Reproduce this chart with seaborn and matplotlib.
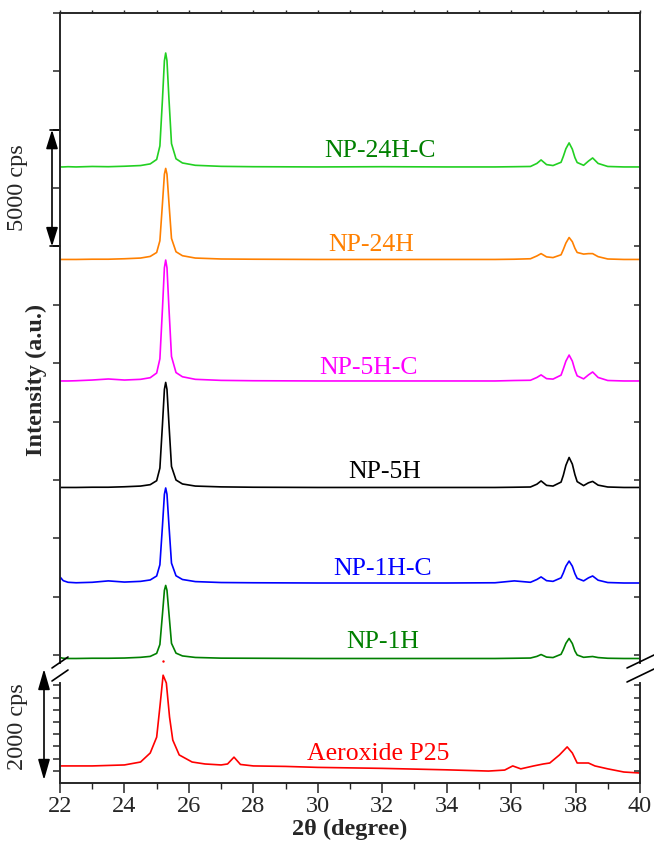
import numpy as np
import pandas as pd
import matplotlib
matplotlib.use("Agg")
import matplotlib.pyplot as plt
import matplotlib.transforms as mtransforms
from matplotlib.lines import Line2D
from matplotlib.patches import FancyArrowPatch
from matplotlib.ticker import MultipleLocator
import seaborn as sns

# ---------------- data ----------------
two_theta = [22.0, 22.1, 22.25, 22.5, 23.0, 23.5, 24.0, 24.5, 24.8, 25.0, 25.1, 25.18,
             25.24, 25.28, 25.32, 25.38, 25.46, 25.6, 25.8, 26.2, 27.0, 28.0, 30.0, 32.0,
             34.0, 35.5, 36.1, 36.6, 36.8, 36.93, 37.1, 37.3, 37.55, 37.62, 37.7, 37.8,
             37.9, 37.98, 38.05, 38.25, 38.4, 38.53, 38.7, 39.0, 39.5, 40.0]

samples = ["NP-24H-C", "NP-24H", "NP-5H-C", "NP-5H", "NP-1H-C", "NP-1H"]
offsets = [20906, 16943, 11738, 7176, 3084, -150]

int_np24hc = [0, 0, 10, 0, 20, 10, 30, 60, 130, 320, 900, 2900, 4550, 4880, 4550, 2950,
              1000, 350, 170, 70, 25, 10, 0, 10, 0, 0, 10, 20, 150, 300, 100, 60, 200,
              450, 780, 1030, 760, 400, 190, 70, 250, 385, 150, 20, 0, 0]
int_np24h = [0, 0, 0, 0, 10, 10, 30, 60, 130, 300, 800, 2400, 3650, 3900, 3650, 2450,
             900, 330, 160, 60, 20, 10, 0, 0, 0, 0, 10, 30, 150, 250, 110, 80, 200,
             420, 700, 940, 760, 480, 300, 230, 250, 250, 120, 20, 0, 0]
int_np5hc = [0, 0, 0, 10, 40, 85, 40, 70, 140, 340, 950, 3100, 4850, 5180, 4850, 3150,
             1050, 360, 180, 70, 25, 10, 0, 0, 0, 0, 20, 30, 150, 260, 100, 80, 250,
             520, 850, 1110, 850, 470, 220, 90, 260, 385, 150, 20, 0, 0]
int_np5h = [0, 0, 0, 0, 10, 10, 30, 60, 120, 290, 830, 2700, 4200, 4500, 4200, 2750,
            900, 320, 150, 60, 25, 10, 0, 0, 0, 0, 10, 20, 140, 280, 90, 60, 230,
            520, 950, 1285, 1000, 550, 250, 80, 200, 260, 100, 20, 0, 0]
int_np1hc = [260, 100, 30, 10, 30, 90, 40, 70, 130, 300, 780, 2450, 3800, 4070, 3800, 2500,
             850, 310, 150, 60, 20, 10, 0, 0, 0, 10, 90, 30, 150, 260, 100, 70, 220,
             430, 720, 940, 720, 400, 200, 90, 220, 300, 120, 20, 0, 0]
int_np1h = [40, 10, 0, 0, 10, 10, 20, 50, 90, 220, 600, 1900, 2920, 3130, 2920, 1950,
            650, 230, 110, 45, 15, 10, 0, 0, 0, 0, 10, 20, 90, 170, 60, 40, 180,
            380, 650, 860, 640, 320, 150, 50, 70, 85, 40, 10, 0, 0]
intensities = [int_np24hc, int_np24h, int_np5hc, int_np5h, int_np1hc, int_np1h]

p25_theta = [22.0, 23.0, 24.0, 24.5, 24.8, 25.0, 25.1, 25.2, 25.3, 25.4, 25.5, 25.7, 26.1,
             26.5, 27.0, 27.2, 27.4, 27.6, 28.0, 29.0, 30.0, 32.0, 34.0, 35.3, 35.8, 36.05,
             36.3, 36.7, 37.0, 37.2, 37.5, 37.74, 37.9, 38.05, 38.4, 38.6, 39.0, 39.5, 40.0]
p25_int = [350, 350, 370, 430, 615, 940, 1560, 2210, 2050, 1350, 880, 575, 430, 390, 370,
           390, 530, 380, 350, 340, 320, 300, 270, 245, 265, 350, 290, 350, 390, 410, 575,
           740, 615, 410, 410, 350, 290, 225, 205]
p25_spike_theta = [25.2]
p25_spike_int = [2500]

line_colors = ["#22d022", "#ff8000", "#ff00ff", "#000000", "#0000ff", "#008000"]
label_colors = ["#008000", "#ff8000", "#ff00ff", "#000000", "#0000ff", "#008000"]
label_x = [31.93, 31.65, 31.56, 32.09, 32.02, 32.02]
label_y = [21600, 17550, 12300, 7850, 3700, 560]
p25_label = "Aeroxide P25"
p25_label_xy = (31.87, 600)

top_yticks = list(range(0, 27501, 2500))
bot_yticks = list(range(250, 2001, 250))
scale_top = (17500, 22500)   # 5000 cps bar

# ---------------- style ----------------
sns.set_style("ticks")
plt.rcParams["font.family"] = ["Liberation Serif", "DejaVu Serif"]
plt.rcParams["axes.linewidth"] = 1.2

W, H = 654, 852
fig = plt.figure(figsize=(W / 100, H / 100), dpi=100)


def fx(px):
    return px / W


def fy(py):
    return 1 - py / H


ax_top = fig.add_axes([fx(60), fy(663), fx(640) - fx(60), fy(13) - fy(663)])
ax_bot = fig.add_axes([fx(60), fy(783), fx(640) - fx(60), fy(683) - fy(783)])

# ---------------- curves ----------------
for name, vals, off, col in zip(samples, intensities, offsets, line_colors):
    df = pd.DataFrame({"theta": two_theta, "I": np.array(vals) + off})
    sns.lineplot(data=df, x="theta", y="I", ax=ax_top, color=col, lw=1.2,
                 estimator=None, sort=False)

dfp = pd.DataFrame({"theta": p25_theta, "I": p25_int})
sns.lineplot(data=dfp, x="theta", y="I", ax=ax_bot, color="#ff0000", lw=1.2,
             estimator=None, sort=False)
ax_bot.lines[-1].set_clip_on(False)
sns.scatterplot(x=p25_spike_theta, y=p25_spike_int, ax=ax_bot, color="#ff0000", s=3,
                linewidth=0, clip_on=False)

# ---------------- labels ----------------
for name, x, y, c in zip(samples, label_x, label_y, label_colors):
    ax_top.text(x, y, name, color=c, fontsize=18.5, ha="center", va="center")
ax_bot.text(p25_label_xy[0], p25_label_xy[1], p25_label, color="#ff0000", fontsize=18.5,
            ha="center", va="center")

# ---------------- axes ----------------
for ax in (ax_top, ax_bot):
    ax.set_xlabel("")
    ax.set_ylabel("")
    ax.set_xlim(22, 40)
    for s in ax.spines.values():
        s.set_linewidth(1.2)

ax_top.set_ylim(-343, 27500)
ax_top.spines["bottom"].set_visible(False)
ax_top.set_yticks(top_yticks)
ax_top.tick_params(axis="y", left=True, right=False, direction="out", length=5,
                   width=1.1, labelleft=False)
ax_top.set_xticks(np.arange(22, 41, 1))
ax_top.tick_params(axis="x", bottom=False, top=True, direction="out", length=2.5,
                   width=1.0, labelbottom=False, labeltop=False)
ax_top_r = ax_top.twinx()
ax_top_r.set_ylim(ax_top.get_ylim())
ax_top_r.set_yticks(top_yticks)
ax_top_r.tick_params(axis="y", right=True, direction="in", length=4, width=1.1,
                     labelright=False)
ax_top_r.spines["bottom"].set_visible(False)
for s in ax_top_r.spines.values():
    s.set_linewidth(1.2)

ax_bot.set_ylim(0, 2050)
ax_bot.spines["top"].set_visible(False)
ax_bot.set_yticks(bot_yticks)
ax_bot.tick_params(axis="y", left=True, right=False, direction="out", length=5,
                   width=1.1, labelleft=False)
ax_bot.set_xticks(np.arange(22, 41, 2))
ax_bot.xaxis.set_minor_locator(MultipleLocator(1))
ax_bot.tick_params(axis="x", which="major", direction="out", length=7, width=1.1,
                   labelsize=17.5, pad=2, top=False)
ax_bot.tick_params(axis="x", which="minor", direction="out", length=4, width=1.0, top=False)
ax_bot_r = ax_bot.twinx()
ax_bot_r.set_ylim(ax_bot.get_ylim())
ax_bot_r.set_yticks(bot_yticks)
ax_bot_r.tick_params(axis="y", right=True, direction="in", length=4, width=1.1,
                     labelright=False)
ax_bot_r.spines["top"].set_visible(False)
for s in ax_bot_r.spines.values():
    s.set_linewidth(1.2)

ax_bot.set_xlabel("2θ (degree)", fontsize=17.5, fontweight="bold", labelpad=2)
fig.text(fx(36), fy(380), "Intensity (a.u.)", rotation=90, fontsize=17.5,
         fontweight="bold", ha="center", va="center")

# ---------------- scale bars ----------------
trans_top = mtransforms.blended_transform_factory(ax_top.transAxes, ax_top.transData)
xa = (52 - 60) / 580
arr = FancyArrowPatch((xa, scale_top[0]), (xa, scale_top[1]), transform=trans_top,
                      arrowstyle="<|-|>,head_length=1.15,head_width=0.36",
                      mutation_scale=10, color="k", lw=1.2, shrinkA=0, shrinkB=0,
                      clip_on=False)
ax_top.add_patch(arr)
for yv in scale_top:
    ax_top.add_line(Line2D([(50 - 60) / 580, 0], [yv, yv], transform=trans_top,
                           color="k", lw=1.2, clip_on=False))
fig.text(fx(17), fy(188), "5000 cps", rotation=90, fontsize=17.5, ha="center", va="center")

xb = (44 - 60) / 580
arr2 = FancyArrowPatch((xb, (783 - 780) / 100), (xb, (783 - 669) / 100),
                       transform=ax_bot.transAxes,
                       arrowstyle="<|-|>,head_length=1.25,head_width=0.36",
                       mutation_scale=10, color="k", lw=1.2, shrinkA=0, shrinkB=0,
                       clip_on=False)
ax_bot.add_patch(arr2)
fig.text(fx(17), fy(727), "2000 cps", rotation=90, fontsize=17.5, ha="center", va="center")

# ---------------- axis break marks ----------------
for (x0, y0, x1, y1) in [(52, 668, 68, 657), (52, 681, 68, 670),
                         (627, 668, 654, 655), (627, 682, 654, 669)]:
    fig.add_artist(Line2D([fx(x0), fx(x1)], [fy(y0), fy(y1)], transform=fig.transFigure,
                          color="k", lw=1.2))

fig.savefig("out.png", dpi=100)
